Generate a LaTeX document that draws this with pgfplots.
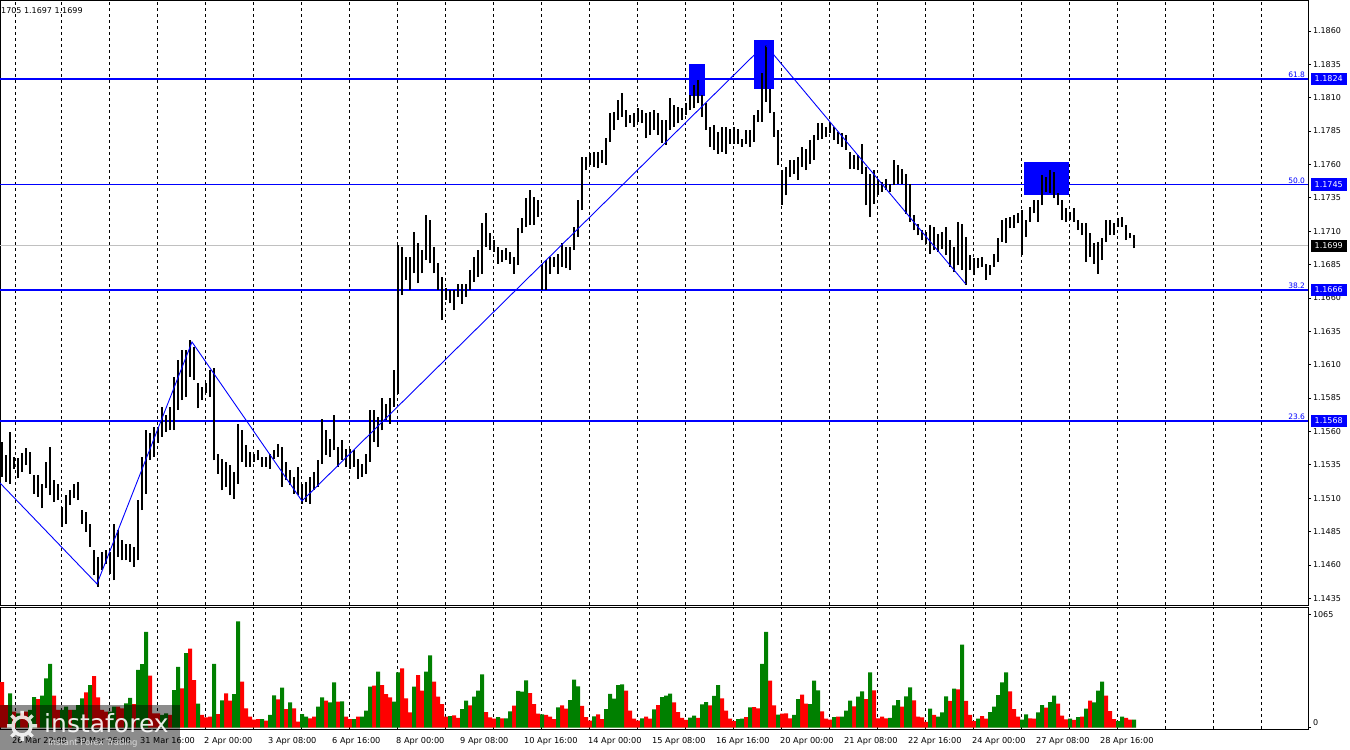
\documentclass[border=0pt]{standalone}
\usepackage{pgfplots}
\pgfplotsset{compat=1.18}
\usepackage{pgfplotstable}
\usepackage{fontspec}
\setmainfont{DejaVu Sans}
\definecolor{mtgreen}{RGB}{0,128,0}
\definecolor{mtred}{RGB}{255,0,0}
\definecolor{mtblue}{RGB}{0,0,255}
\definecolor{mtsilver}{RGB}{192,192,192}
\newcommand{\lblfont}{\fontsize{8bp}{9bp}\selectfont}
\newcommand{\xlblfont}{\fontsize{8.2bp}{9bp}\selectfont}
\newcommand{\fibfont}{\fontsize{7.5bp}{8bp}\selectfont}
\pgfplotstableread{
x lo hi r g
2 1.15260 1.15523 428 0
6 1.15223 1.15423 212 0
10 1.15210 1.15598 0 322
14 1.15322 1.15410 150 0
18 1.15248 1.15398 0 133
22 1.15298 1.15435 133 0
26 1.15348 1.15473 150 0
30 1.15285 1.15448 0 165
34 1.15135 1.15273 0 287
38 1.15110 1.15273 268 0
42 1.15023 1.15210 0 300
46 1.15173 1.15373 0 463
50 1.15123 1.15485 0 600
54 1.15073 1.15235 300 0
58 1.15085 1.15210 165 0
62 1.14885 1.15035 0 165
66 1.14910 1.15123 0 196
70 1.15048 1.15160 165 0
74 1.15098 1.15210 0 165
78 1.15085 1.15223 0 212
82 1.14910 1.15010 0 275
86 1.14848 1.14998 331 0
90 1.14735 1.14910 0 400
94 1.14523 1.14710 485 0
98 1.14435 1.14660 284 0
102 1.14560 1.14698 165 0
106 1.14610 1.14710 150 0
110 1.14535 1.14698 0 150
114 1.14485 1.14910 0 196
118 1.14660 1.14860 196 0
122 1.14635 1.14785 180 0
126 1.14635 1.14760 0 228
130 1.14623 1.14760 0 278
134 1.14585 1.14735 221 0
138 1.14635 1.15085 0 542
142 1.15010 1.15410 0 598
146 1.15135 1.15610 0 900
150 1.15385 1.15585 488 0
154 1.15410 1.15635 133 0
158 1.15510 1.15635 133 0
162 1.15560 1.15785 0 118
166 1.15598 1.15723 0 133
170 1.15610 1.15785 118 0
174 1.15610 1.16010 0 353
178 1.15760 1.16135 0 570
182 1.15835 1.16210 369 0
186 1.15860 1.16210 0 700
190 1.16010 1.16285 743 0
194 1.15985 1.16235 447 0
198 1.15773 1.15960 0 224
202 1.15835 1.15935 118 0
206 1.15885 1.15960 96 0
210 1.15860 1.16060 102 0
214 1.15384 1.16072 0 600
218 1.15284 1.15434 127 0
222 1.15159 1.15397 0 256
226 1.15184 1.15372 322 0
230 1.15122 1.15347 253 0
234 1.15097 1.15297 0 315
238 1.15209 1.15659 0 1000
242 1.15372 1.15609 432 0
246 1.15334 1.15497 180 0
250 1.15334 1.15447 102 0
254 1.15372 1.15434 74 0
258 1.15384 1.15459 80 0
262 1.15334 1.15409 0 80
266 1.15334 1.15409 64 0
270 1.15322 1.15434 0 118
274 1.15397 1.15459 0 303
278 1.15409 1.15509 265 0
282 1.15184 1.15484 0 375
286 1.15234 1.15372 174 0
290 1.15197 1.15309 0 237
294 1.15134 1.15259 180 0
298 1.15122 1.15334 55 0
302 1.15059 1.15209 0 127
306 1.15072 1.15222 0 102
310 1.15059 1.15259 86 0
314 1.15159 1.15297 102 0
318 1.15184 1.15384 0 196
322 1.15359 1.15697 0 284
326 1.15422 1.15609 253 0
330 1.15409 1.15547 0 237
334 1.15459 1.15722 0 425
338 1.15334 1.15484 243 0
342 1.15384 1.15534 0 246
346 1.15334 1.15472 102 0
350 1.15322 1.15472 80 0
354 1.15334 1.15459 0 80
358 1.15247 1.15397 102 0
362 1.15259 1.15359 0 102
366 1.15284 1.15434 0 158
370 1.15372 1.15759 0 385
374 1.15522 1.15759 394 0
378 1.15484 1.15709 0 526
382 1.15609 1.15847 400 0
386 1.15684 1.15809 315 0
390 1.15659 1.15847 284 0
394 1.15784 1.16059 0 243
398 1.15884 1.16997 0 520
402 1.16622 1.16984 557 0
406 1.16734 1.16909 275 0
410 1.16659 1.16909 143 0
414 1.16784 1.17097 0 385
418 1.16709 1.17009 494 0
422 1.16784 1.16959 347 0
426 1.16884 1.17222 0 526
430 1.16859 1.17184 0 680
434 1.16784 1.16984 432 0
438 1.16659 1.16859 290 0
442 1.16434 1.16759 221 0
446 1.16584 1.16672 102 0
450 1.16559 1.16659 0 108
454 1.16508 1.16658 115 0
458 1.16608 1.16708 90 0
462 1.16558 1.16708 0 174
466 1.16608 1.16708 0 253
470 1.16658 1.16808 209 0
474 1.16721 1.16908 0 290
478 1.16758 1.16958 0 347
482 1.16783 1.17158 0 500
486 1.16983 1.17233 146 0
490 1.16958 1.17083 96 0
494 1.16946 1.17033 83 0
498 1.16858 1.16983 0 99
502 1.16871 1.16958 86 0
506 1.16883 1.16971 0 86
510 1.16858 1.16946 0 152
514 1.16783 1.16908 206 0
518 1.16846 1.17121 0 344
522 1.17083 1.17196 0 338
526 1.17133 1.17346 0 444
530 1.17146 1.17408 325 0
534 1.17146 1.17358 221 0
538 1.17208 1.17333 130 0
542 1.16658 1.16858 0 124
546 1.16658 1.16883 118 0
550 1.16783 1.16908 102 0
554 1.16833 1.16908 80 0
558 1.16783 1.16933 0 190
562 1.16833 1.17008 209 0
566 1.16821 1.16983 177 0
570 1.16808 1.16983 0 259
574 1.16958 1.17133 0 450
578 1.17058 1.17333 0 388
582 1.17258 1.17658 203 0
586 1.17558 1.17658 99 0
590 1.17596 1.17683 64 0
594 1.17583 1.17696 0 105
598 1.17571 1.17696 124 0
602 1.17608 1.17708 80 0
606 1.17596 1.17796 0 174
610 1.17771 1.17983 0 316
614 1.17858 1.17996 0 272
618 1.17933 1.18083 0 400
622 1.17958 1.18133 0 407
626 1.17883 1.18008 347 0
630 1.17908 1.17971 159 0
634 1.17883 1.17983 83 0
638 1.17921 1.18021 64 0
642 1.17908 1.18008 0 86
646 1.17796 1.17983 102 0
650 1.17821 1.17996 83 0
654 1.17858 1.18008 0 171
658 1.17821 1.17983 212 0
662 1.17758 1.17933 0 287
666 1.17746 1.17933 0 300
670 1.17858 1.18096 0 319
674 1.17883 1.18046 237 0
678 1.17908 1.18033 146 0
682 1.17933 1.18021 90 0
686 1.17971 1.18058 71 0
690 1.18008 1.18121 0 93
694 1.18021 1.18196 0 111
698 1.18058 1.18233 90 0
702 1.17958 1.18121 0 218
706 1.17858 1.18058 0 240
710 1.17732 1.17882 209 0
714 1.17707 1.17894 0 297
718 1.17682 1.17844 0 400
722 1.17694 1.17882 275 0
726 1.17682 1.17882 159 0
730 1.17757 1.17869 83 0
734 1.17757 1.17882 61 0
738 1.17757 1.17869 0 80
742 1.17732 1.17794 0 83
746 1.17757 1.17857 99 0
750 1.17732 1.17857 0 190
754 1.17769 1.17969 193 0
758 1.17919 1.18007 180 0
762 1.17919 1.18282 0 600
766 1.18069 1.18494 0 900
770 1.17982 1.18169 441 0
774 1.17807 1.17994 209 0
778 1.17594 1.17857 0 121
782 1.17294 1.17557 130 0
786 1.17369 1.17582 133 0
790 1.17507 1.17632 86 0
794 1.17532 1.17632 0 118
798 1.17482 1.17657 0 268
802 1.17582 1.17732 309 0
806 1.17557 1.17719 224 0
810 1.17607 1.17782 0 221
814 1.17632 1.17819 0 441
818 1.17782 1.17907 0 350
822 1.17794 1.17907 152 0
826 1.17807 1.17882 83 0
830 1.17832 1.17919 74 0
834 1.17782 1.17882 0 99
838 1.17757 1.17844 102 0
842 1.17732 1.17832 0 102
846 1.17707 1.17819 0 159
850 1.17569 1.17694 0 253
854 1.17569 1.17669 199 0
858 1.17557 1.17669 0 290
862 1.17532 1.17757 0 341
866 1.17294 1.17582 268 0
870 1.17207 1.17532 0 520
874 1.17307 1.17557 350 0
878 1.17369 1.17494 86 0
882 1.17394 1.17469 102 0
886 1.17407 1.17494 86 0
890 1.17394 1.17457 0 90
894 1.17444 1.17632 0 209
898 1.17457 1.17594 0 259
902 1.17457 1.17569 196 0
906 1.17232 1.17532 0 294
910 1.17169 1.17457 0 378
914 1.17107 1.17219 256 0
918 1.17069 1.17157 102 0
922 1.17032 1.17107 96 0
926 1.17007 1.17094 52 0
930 1.16932 1.17144 0 177
934 1.16957 1.17132 118 0
938 1.16944 1.17082 0 102
942 1.16969 1.17094 0 143
946 1.16919 1.17132 0 294
950 1.16832 1.17032 250 0
954 1.16794 1.16982 0 366
958 1.16844 1.17169 360 0
962 1.16807 1.17157 0 780
966 1.16696 1.17058 250 0
970 1.16808 1.16921 118 0
974 1.16771 1.16896 61 0
978 1.16821 1.16896 0 83
982 1.16833 1.16908 108 0
986 1.16733 1.16858 83 0
990 1.16771 1.16846 0 146
994 1.16833 1.16933 0 196
998 1.16871 1.17046 0 306
1002 1.17021 1.17183 0 425
1006 1.17008 1.17196 0 520
1010 1.17121 1.17208 341 0
1014 1.17121 1.17221 174 0
1018 1.17158 1.17233 102 0
1022 1.16921 1.17258 0 74
1026 1.17058 1.17183 0 124
1030 1.17171 1.17283 86 0
1034 1.17233 1.17333 83 0
1038 1.17171 1.17333 0 143
1042 1.17296 1.17521 0 212
1046 1.17396 1.17508 187 0
1050 1.17383 1.17558 0 240
1054 1.17346 1.17546 0 300
1058 1.17296 1.17383 225 0
1062 1.17183 1.17333 111 0
1066 1.17171 1.17271 77 0
1070 1.17183 1.17246 0 83
1074 1.17171 1.17271 71 0
1078 1.17108 1.17183 0 99
1082 1.17071 1.17158 102 0
1086 1.16871 1.17158 0 177
1090 1.16908 1.17083 253 0
1094 1.16858 1.17008 0 237
1098 1.16783 1.17021 0 347
1102 1.16883 1.17046 0 432
1106 1.17021 1.17183 300 0
1110 1.17071 1.17183 155 0
1114 1.17071 1.17158 80 0
1118 1.17133 1.17196 0 61
1122 1.17133 1.17208 0 102
1126 1.17033 1.17146 90 0
1130 1.17046 1.17083 74 0
1134 1.16971 1.17071 0 74
}\chartdata
\begin{document}
\begin{tikzpicture}
\useasboundingbox (0bp,0bp) rectangle (1350bp,750bp);
% ---------------- price panel ----------------
\begin{axis}[
  at={(0bp,145bp)}, anchor=south west, scale only axis,
  width=1308bp, height=605bp,
  xmin=0, xmax=1308, ymin=1.14300, ymax=1.18832,
  clip=false,
  axis line style={black, line width=0.9bp},
  xtick={15.7,61.7,109.7,157.7,205.7,253.7,301.7,349.7,397.7,445.7,493.7,541.7,589.7,637.7,685.7,733.7,781.7,829.7,877.7,925.7,973.7,1021.7,1069.7,1117.7,1165.7,1213.7,1261.7},
  xticklabels={},
  xtick style={draw=none},
  xmajorgrids,
  x grid style={black, line width=0.8bp, dash pattern=on 3bp off 3bp},
  ytick={1.1435,1.1460,1.1485,1.1510,1.1535,1.1560,1.1585,1.1610,1.1635,1.1660,1.1685,1.1710,1.1735,1.1760,1.1785,1.1810,1.1835,1.1860},
  yticklabels={1.1435,1.1460,1.1485,1.1510,1.1535,1.1560,1.1585,1.1610,1.1635,1.1660,1.1685,1.1710,1.1735,1.1760,1.1785,1.1810,1.1835,1.1860},
  ytick pos=right, yticklabel pos=right,
  tick align=outside, major tick length=3bp,
  ytick style={black, line width=0.8bp},
  yticklabel style={font=\lblfont, inner sep=1.8bp, text=black},
]
% blue boxes
\addplot[fill=mtblue, draw=none] coordinates {(689,1.18113) (705,1.18113) (705,1.18353) (689,1.18353)} -- cycle;
\addplot[fill=mtblue, draw=none] coordinates {(754,1.18165) (774,1.18165) (774,1.18532) (754,1.18532)} -- cycle;
\addplot[fill=mtblue, draw=none] coordinates {(1024,1.17371) (1069,1.17371) (1069,1.17619) (1024,1.17619)} -- cycle;
% fibonacci levels and current price
\addplot[mtblue, line width=2bp] coordinates {(0,1.1824) (1308,1.1824)};
\addplot[mtblue, line width=1bp] coordinates {(0,1.1745) (1308,1.1745)};
\addplot[mtsilver, line width=1bp] coordinates {(0,1.1699) (1308,1.1699)};
\addplot[mtblue, line width=2bp] coordinates {(0,1.1666) (1308,1.1666)};
\addplot[mtblue, line width=2bp] coordinates {(0,1.1568) (1308,1.1568)};
% price bars (high-low)
\addplot[draw=none, mark=none,
  error bars/.cd, y dir=plus, y explicit, error mark=none,
  error bar style={draw=black, solid, line width=1.7bp}]
  table[x=x, y=lo, y error plus expr={\thisrow{hi}-\thisrow{lo}}] {\chartdata};
% zigzag
\addplot[mtblue, line width=0.9bp] coordinates {(0,1.15214) (97,1.14458) (192,1.16270) (302,1.15079) (765,1.18500) (965.7,1.16705)};
% level labels
\node[anchor=south east, text=mtblue, font=\fibfont, inner sep=0.8bp] at (axis cs:1306,1.1824) {61.8};
\node[anchor=south east, text=mtblue, font=\fibfont, inner sep=0.8bp] at (axis cs:1306,1.1745) {50.0};
\node[anchor=south east, text=mtblue, font=\fibfont, inner sep=0.8bp] at (axis cs:1306,1.1666) {38.2};
\node[anchor=south east, text=mtblue, font=\fibfont, inner sep=0.8bp] at (axis cs:1306,1.1568) {23.6};
\node[anchor=west, fill=mtblue, text=white, font=\lblfont, inner sep=0pt, minimum width=36bp, minimum height=12.5bp] at (axis cs:1310.5,1.1824) {1.1824};
\node[anchor=west, fill=mtblue, text=white, font=\lblfont, inner sep=0pt, minimum width=36bp, minimum height=12.5bp] at (axis cs:1310.5,1.1745) {1.1745};
\node[anchor=west, fill=black, text=white, font=\lblfont, inner sep=0pt, minimum width=36bp, minimum height=12.5bp] at (axis cs:1310.5,1.1699) {1.1699};
\node[anchor=west, fill=mtblue, text=white, font=\lblfont, inner sep=0pt, minimum width=36bp, minimum height=12.5bp] at (axis cs:1310.5,1.1666) {1.1666};
\node[anchor=west, fill=mtblue, text=white, font=\lblfont, inner sep=0pt, minimum width=36bp, minimum height=12.5bp] at (axis cs:1310.5,1.1568) {1.1568};
\node[anchor=north west, font=\lblfont, inner sep=0pt] at (axis cs:1,1.18780) {1705 1.1697 1.1699};
\end{axis}
% ---------------- volume panel ----------------
\begin{axis}[
  at={(0bp,21bp)}, anchor=south west, scale only axis,
  width=1308bp, height=122bp,
  xmin=0, xmax=1308, ymin=-14, ymax=1135,
  axis line style={black, line width=0.9bp},
  xtick={15.7,61.7,109.7,157.7,205.7,253.7,301.7,349.7,397.7,445.7,493.7,541.7,589.7,637.7,685.7,733.7,781.7,829.7,877.7,925.7,973.7,1021.7,1069.7,1117.7,1165.7,1213.7,1261.7},
  xticklabels={},
  xtick style={draw=none},
  xmajorgrids,
  x grid style={black, line width=0.8bp, dash pattern=on 3bp off 3bp},
  extra x ticks={12,76,140,204,268,332,396,460,524,588,652,716,780,844,908,972,1036,1100},
  extra x tick labels={26 Mar 22:00,30 Mar 06:00,31 Mar 16:00,2 Apr 00:00,3 Apr 08:00,6 Apr 16:00,8 Apr 00:00,9 Apr 08:00,10 Apr 16:00,14 Apr 00:00,15 Apr 08:00,16 Apr 16:00,20 Apr 00:00,21 Apr 08:00,22 Apr 16:00,24 Apr 00:00,27 Apr 08:00,28 Apr 16:00},
  extra x tick style={grid=none, xticklabel style={anchor=north west, font=\xlblfont, inner sep=0pt, yshift=-5bp}},
  ytick={1065}, yticklabels={1065},
  extra y ticks={0}, extra y tick labels={0},
  extra y tick style={yticklabel style={yshift=5bp}},
  ytick pos=right, yticklabel pos=right,
  tick align=outside, major tick length=3bp,
  ytick style={black, line width=0.8bp},
  yticklabel style={font=\lblfont, inner sep=1.8bp},
]
\addplot[ybar, bar width=4, bar shift=0pt, fill=mtred, draw=none] table[x=x, y=r] {\chartdata};
\addplot[ybar, bar width=4, bar shift=0pt, fill=mtgreen, draw=none] table[x=x, y=g] {\chartdata};
\end{axis}
% ---------------- watermark ----------------
\fill[black, opacity=0.45] (0bp,0bp) rectangle (180bp,45bp);
\draw[white, opacity=0.85, line width=3.5bp]
  (22bp,24bp) circle (9bp)
  (22bp,33bp) -- (22bp,39bp) (22bp,15bp) -- (22bp,9bp)
  (31bp,24bp) -- (37bp,24bp) (13bp,24bp) -- (7bp,24bp)
  (28.4bp,30.4bp) -- (32.6bp,34.6bp) (15.6bp,17.6bp) -- (11.4bp,13.4bp)
  (28.4bp,17.6bp) -- (32.6bp,13.4bp) (15.6bp,30.4bp) -- (11.4bp,34.6bp);
\node[anchor=west, text=white, opacity=0.9, font=\fontsize{25bp}{26bp}\selectfont, inner sep=0pt] at (44bp,27bp) {instaforex};
\node[anchor=west, text=white!85!black, font=\fontsize{8.5bp}{9bp}\selectfont, inner sep=0pt] at (48bp,7bp) {Instant Forex Trading};
\end{tikzpicture}
\end{document}
